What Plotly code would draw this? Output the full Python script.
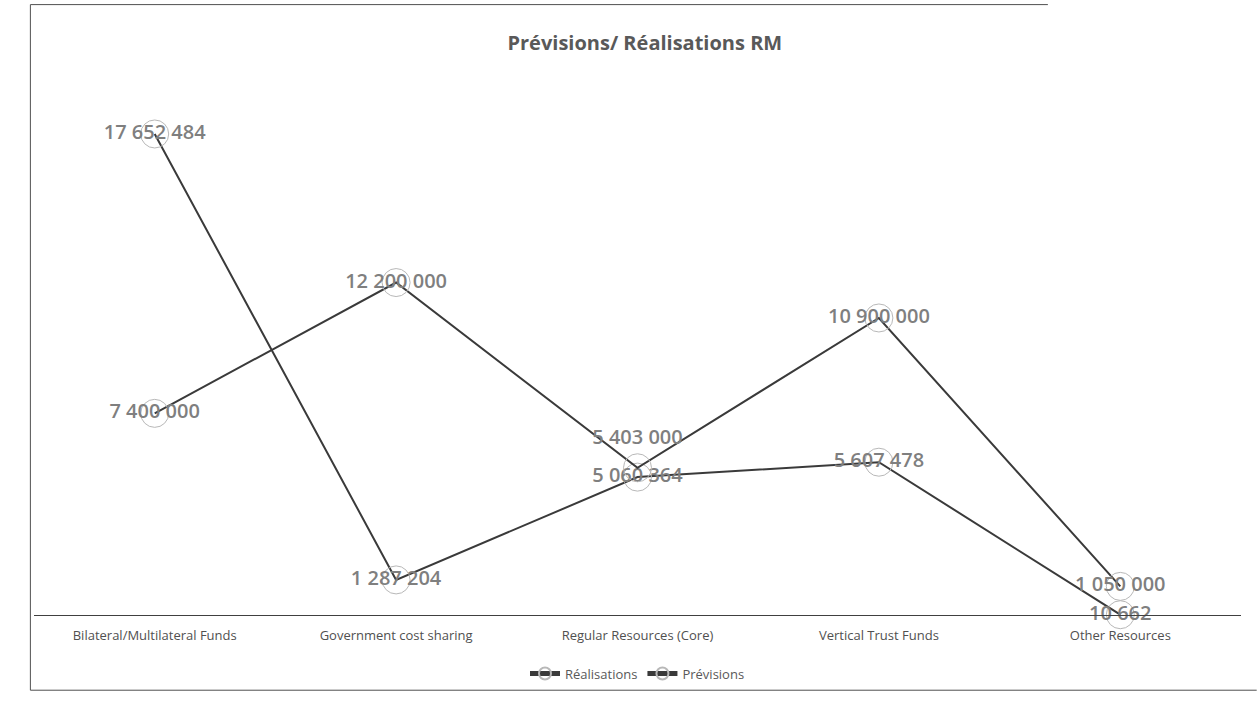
import plotly.graph_objects as go

categories = ["Bilateral/Multilateral Funds", "Government cost sharing",
              "Regular Resources (Core)", "Vertical Trust Funds", "Other Resources"]
realisations = [17652484, 1287204, 5060364, 5607478, 10662]
previsions = [7400000, 12200000, 5403000, 10900000, 1050000]

def fmt(v):
    return f"{v:,}".replace(",", " ")

line_col = "#3a3a3a"
label_col = "#7f7f7f"
marker = dict(symbol="circle", size=28, color="rgba(255,255,255,0.0)",
              line=dict(color="#b8b8b8", width=1))

fig = go.Figure()
fig.add_trace(go.Scatter(
    x=categories, y=realisations, name="Réalisations",
    mode="lines+markers+text", text=[fmt(v) for v in realisations],
    textposition="middle center",
    textfont=dict(family="Open Sans", size=20, color=label_col, weight=600),
    line=dict(color=line_col, width=2), marker=marker, cliponaxis=False))
fig.add_trace(go.Scatter(
    x=categories, y=previsions, name="Prévisions",
    mode="lines+markers+text", text=[fmt(v) for v in previsions],
    textposition=["middle center", "middle center", "top center",
                  "middle center", "middle center"],
    textfont=dict(family="Open Sans", size=20, color=label_col, weight=600),
    line=dict(color=line_col, width=2), marker=marker, cliponaxis=False))

fig.update_layout(
    width=1257, height=709,
    margin=dict(l=34, r=16, t=70, b=94),
    paper_bgcolor="white", plot_bgcolor="white",
    title=dict(text="<b>Prévisions/ Réalisations RM</b>", x=0.513, xanchor="center",
               y=0.94, yanchor="middle",
               font=dict(family="Open Sans", size=20, color="#595959")),
    showlegend=True,
    legend=dict(orientation="h", x=0.5, xanchor="center", y=-0.08, yanchor="top",
                font=dict(family="Open Sans", size=13, color="#595959"),
                itemsizing="constant"),
    xaxis=dict(range=[-0.5, 4.5], showline=True, linecolor="#404040", linewidth=1,
               showgrid=False, ticks="", ticklabelstandoff=8, zeroline=False,
               tickfont=dict(family="Open Sans", size=13, color="#505050")),
    yaxis=dict(range=[0, 20000000], showgrid=False, zeroline=False,
               showticklabels=False, showline=False),
)

# outer chart frame (partial, as in the scan)
fig.add_shape(type="line", xref="paper", yref="paper", x0=-0.003, x1=-0.003,
              y0=-0.138, y1=1.12, line=dict(color="#505050", width=1))
fig.add_shape(type="line", xref="paper", yref="paper", x0=-0.003, x1=1.013,
              y0=-0.138, y1=-0.138, line=dict(color="#505050", width=1))
fig.add_shape(type="line", xref="paper", yref="paper", x0=-0.003, x1=0.84,
              y0=1.12, y1=1.12, line=dict(color="#505050", width=1))

fig.write_html("out.html")
